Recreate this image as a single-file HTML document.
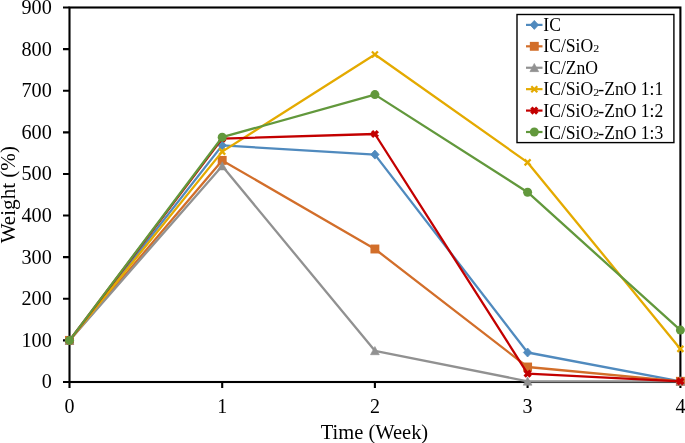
<!DOCTYPE html>
<html><head><meta charset="utf-8"><style>
html,body{margin:0;padding:0;background:#fff;overflow:hidden;}
svg{display:block;will-change:transform;}
text{font-family:"Liberation Serif",serif;fill:#000;}
</style></head><body>
<svg width="685" height="443" viewBox="0 0 685 443">
<rect width="685" height="443" fill="#fff"/>
<rect x="69.5" y="7.5" width="610.9" height="374.5" fill="none" stroke="#000" stroke-width="2.1"/>
<path d="M63 382.00H69.5 M63 340.39H69.5 M63 298.78H69.5 M63 257.17H69.5 M63 215.56H69.5 M63 173.94H69.5 M63 132.33H69.5 M63 90.72H69.5 M63 49.11H69.5 M63 7.50H69.5 M69.5 382V388 M222.2 382V388 M374.9 382V388 M527.6 382V388 M680.4 382V388" stroke="#000" stroke-width="2.1" fill="none"/>
<text transform="translate(51.8 388.40) scale(1 1.035)" font-size="20.2" text-anchor="end">0</text>
<text transform="translate(51.8 346.79) scale(1 1.035)" font-size="20.2" text-anchor="end">100</text>
<text transform="translate(51.8 305.18) scale(1 1.035)" font-size="20.2" text-anchor="end">200</text>
<text transform="translate(51.8 263.57) scale(1 1.035)" font-size="20.2" text-anchor="end">300</text>
<text transform="translate(51.8 221.96) scale(1 1.035)" font-size="20.2" text-anchor="end">400</text>
<text transform="translate(51.8 180.34) scale(1 1.035)" font-size="20.2" text-anchor="end">500</text>
<text transform="translate(51.8 138.73) scale(1 1.035)" font-size="20.2" text-anchor="end">600</text>
<text transform="translate(51.8 97.12) scale(1 1.035)" font-size="20.2" text-anchor="end">700</text>
<text transform="translate(51.8 55.51) scale(1 1.035)" font-size="20.2" text-anchor="end">800</text>
<text transform="translate(51.8 13.90) scale(1 1.035)" font-size="20.2" text-anchor="end">900</text>
<text transform="translate(69.5 413.00) scale(1 1.035)" font-size="20" text-anchor="middle">0</text>
<text transform="translate(222.2 413.00) scale(1 1.035)" font-size="20" text-anchor="middle">1</text>
<text transform="translate(374.9 413.00) scale(1 1.035)" font-size="20" text-anchor="middle">2</text>
<text transform="translate(527.6 413.00) scale(1 1.035)" font-size="20" text-anchor="middle">3</text>
<text transform="translate(680.4 413.00) scale(1 1.035)" font-size="20" text-anchor="middle">4</text>
<text transform="translate(374.5 438.50) scale(1 1.05)" font-size="20.5" text-anchor="middle">Time (Week)</text>
<text transform="translate(15 194.70) scale(1 1.03) rotate(-90)" font-size="20.5" text-anchor="middle">Weight (%)</text>
<polyline points="69.5,340.4 222.2,145.4 374.9,154.6 527.6,352.5 680.4,381.3" fill="none" stroke="#508ABE" stroke-width="2.3" stroke-linejoin="round" stroke-linecap="round"/>
<path d="M69.5 335.9L73.7 340.4L69.5 344.9L65.3 340.4Z" fill="#508ABE" stroke="#508ABE" stroke-width="0.8" stroke-linejoin="round"/>
<path d="M222.2 140.9L226.39999999999998 145.4L222.2 149.9L218.0 145.4Z" fill="#508ABE" stroke="#508ABE" stroke-width="0.8" stroke-linejoin="round"/>
<path d="M374.9 150.1L379.09999999999997 154.6L374.9 159.1L370.7 154.6Z" fill="#508ABE" stroke="#508ABE" stroke-width="0.8" stroke-linejoin="round"/>
<path d="M527.6 348.0L531.8000000000001 352.5L527.6 357.0L523.4 352.5Z" fill="#508ABE" stroke="#508ABE" stroke-width="0.8" stroke-linejoin="round"/>
<path d="M680.4 376.8L684.6 381.3L680.4 385.8L676.1999999999999 381.3Z" fill="#508ABE" stroke="#508ABE" stroke-width="0.8" stroke-linejoin="round"/>
<polyline points="69.5,340.4 222.2,160.4 374.9,249.0 527.6,367.0 680.4,381.3" fill="none" stroke="#D26E2A" stroke-width="2.3" stroke-linejoin="round" stroke-linecap="round"/>
<rect x="65.05" y="335.95" width="8.9" height="8.9" fill="#D26E2A"/>
<rect x="217.75" y="155.95" width="8.9" height="8.9" fill="#D26E2A"/>
<rect x="370.45" y="244.55" width="8.9" height="8.9" fill="#D26E2A"/>
<rect x="523.15" y="362.55" width="8.9" height="8.9" fill="#D26E2A"/>
<rect x="675.95" y="376.85" width="8.9" height="8.9" fill="#D26E2A"/>
<polyline points="69.5,340.4 222.2,166.0 374.9,350.8 527.6,381.3 680.4,381.3" fill="none" stroke="#919191" stroke-width="2.3" stroke-linejoin="round" stroke-linecap="round"/>
<path d="M69.5 336.09999999999997L73.9 344.29999999999995L65.1 344.29999999999995Z" fill="#919191" stroke="#919191" stroke-width="0.6" stroke-linejoin="round"/>
<path d="M222.2 161.7L226.6 169.9L217.79999999999998 169.9Z" fill="#919191" stroke="#919191" stroke-width="0.6" stroke-linejoin="round"/>
<path d="M374.9 346.5L379.29999999999995 354.7L370.5 354.7Z" fill="#919191" stroke="#919191" stroke-width="0.6" stroke-linejoin="round"/>
<path d="M527.6 377.0L532.0 385.2L523.2 385.2Z" fill="#919191" stroke="#919191" stroke-width="0.6" stroke-linejoin="round"/>
<path d="M680.4 377.0L684.8 385.2L676.0 385.2Z" fill="#919191" stroke="#919191" stroke-width="0.6" stroke-linejoin="round"/>
<polyline points="69.5,340.4 222.2,151.6 374.9,54.5 527.6,162.4 680.4,348.9" fill="none" stroke="#E4AA00" stroke-width="2.3" stroke-linejoin="round" stroke-linecap="round"/>
<path d="M66.5 337.4L72.5 343.4M72.5 337.4L66.5 343.4" stroke="#E4AA00" stroke-width="2.2" fill="none"/>
<path d="M219.2 148.6L225.2 154.6M225.2 148.6L219.2 154.6" stroke="#E4AA00" stroke-width="2.2" fill="none"/>
<path d="M371.9 51.5L377.9 57.5M377.9 51.5L371.9 57.5" stroke="#E4AA00" stroke-width="2.2" fill="none"/>
<path d="M524.6 159.4L530.6 165.4M530.6 159.4L524.6 165.4" stroke="#E4AA00" stroke-width="2.2" fill="none"/>
<path d="M677.4 345.9L683.4 351.9M683.4 345.9L677.4 351.9" stroke="#E4AA00" stroke-width="2.2" fill="none"/>
<polyline points="69.5,340.4 222.2,138.6 374.9,134.0 527.6,373.6 680.4,381.3" fill="none" stroke="#C30000" stroke-width="2.3" stroke-linejoin="round" stroke-linecap="round"/>
<path d="M66.55 337.45L72.45 343.35M72.45 337.45L66.55 343.35" stroke="#C30000" stroke-width="3.3" fill="none"/>
<path d="M219.25 135.65L225.15 141.55M225.15 135.65L219.25 141.55" stroke="#C30000" stroke-width="3.3" fill="none"/>
<path d="M371.95 131.05L377.85 136.95M377.85 131.05L371.95 136.95" stroke="#C30000" stroke-width="3.3" fill="none"/>
<path d="M524.65 370.65L530.55 376.55M530.55 370.65L524.65 376.55" stroke="#C30000" stroke-width="3.3" fill="none"/>
<path d="M677.45 378.35L683.35 384.25M683.35 378.35L677.45 384.25" stroke="#C30000" stroke-width="3.3" fill="none"/>
<polyline points="69.5,340.4 222.2,137.2 374.9,94.6 527.6,192.2 680.4,330.1" fill="none" stroke="#62983C" stroke-width="2.3" stroke-linejoin="round" stroke-linecap="round"/>
<circle cx="69.5" cy="340.4" r="4.5" fill="#62983C"/>
<circle cx="222.2" cy="137.2" r="4.5" fill="#62983C"/>
<circle cx="374.9" cy="94.6" r="4.5" fill="#62983C"/>
<circle cx="527.6" cy="192.2" r="4.5" fill="#62983C"/>
<circle cx="680.4" cy="330.1" r="4.5" fill="#62983C"/>
<rect x="517" y="14.5" width="156.9" height="128.1" fill="#fff" stroke="#000" stroke-width="1.4"/>
<path d="M526 24.90H542.5" stroke="#508ABE" stroke-width="2.2"/>
<path d="M534.3 20.4L538.5 24.9L534.3 29.4L530.0999999999999 24.9Z" fill="#508ABE" stroke="#508ABE" stroke-width="0.8" stroke-linejoin="round"/>
<text transform="translate(543.3 30.70) scale(1 1.095)" font-size="17.6">IC</text>
<path d="M526 46.32H542.5" stroke="#D26E2A" stroke-width="2.2"/>
<rect x="529.85" y="41.87" width="8.9" height="8.9" fill="#D26E2A"/>
<text transform="translate(543.3 52.28) scale(1 1.095)" font-size="17.6">IC/SiO</text>
<text transform="translate(593.2 52.38) scale(1.2 0.95)" font-size="10">2</text>
<path d="M526 67.74H542.5" stroke="#919191" stroke-width="2.2"/>
<path d="M534.3 63.44L538.6999999999999 71.64L529.9 71.64Z" fill="#919191" stroke="#919191" stroke-width="0.6" stroke-linejoin="round"/>
<text transform="translate(543.3 73.86) scale(1 1.095)" font-size="17.6">IC/ZnO</text>
<path d="M526 89.16H542.5" stroke="#E4AA00" stroke-width="2.2"/>
<path d="M531.3 86.16L537.3 92.16M537.3 86.16L531.3 92.16" stroke="#E4AA00" stroke-width="2.2" fill="none"/>
<text transform="translate(543.3 95.44) scale(1 1.095)" font-size="17.6">IC/SiO</text>
<text transform="translate(593.2 95.54) scale(1.2 0.95)" font-size="10">2</text>
<text transform="translate(598.3 95.44) scale(1 1.095)" font-size="17.6">-ZnO 1:1</text>
<path d="M526 110.58H542.5" stroke="#C30000" stroke-width="2.2"/>
<path d="M531.35 107.63L537.25 113.53M537.25 107.63L531.35 113.53" stroke="#C30000" stroke-width="3.3" fill="none"/>
<text transform="translate(543.3 117.02) scale(1 1.095)" font-size="17.6">IC/SiO</text>
<text transform="translate(593.2 117.12) scale(1.2 0.95)" font-size="10">2</text>
<text transform="translate(598.3 117.02) scale(1 1.095)" font-size="17.6">-ZnO 1:2</text>
<path d="M526 132.00H542.5" stroke="#62983C" stroke-width="2.2"/>
<circle cx="534.3" cy="132.0" r="4.5" fill="#62983C"/>
<text transform="translate(543.3 138.60) scale(1 1.095)" font-size="17.6">IC/SiO</text>
<text transform="translate(593.2 138.70) scale(1.2 0.95)" font-size="10">2</text>
<text transform="translate(598.3 138.60) scale(1 1.095)" font-size="17.6">-ZnO 1:3</text>
</svg></body></html>
